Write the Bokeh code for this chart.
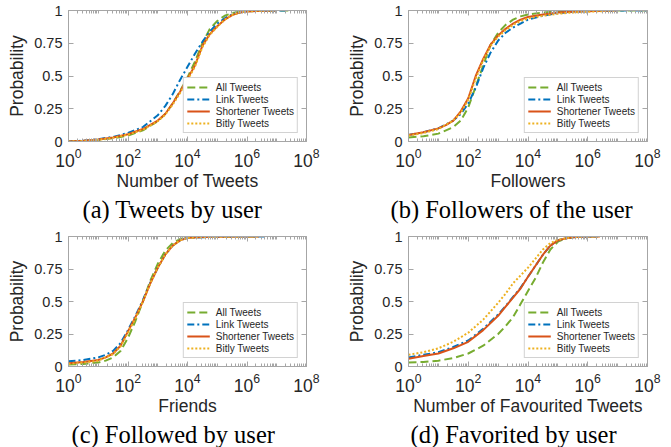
import numpy as np
from bokeh.plotting import figure
from bokeh.layouts import column, row
from bokeh.models import (FixedTicker, Legend, LegendItem, Title, LogAxis, LinearAxis,
                          ColumnDataSource)
from bokeh.embed import file_html
from bokeh.resources import INLINE

# ---------------- data (log10 of x, probability) ----------------
series_names = ["All Tweets", "Link Tweets", "Shortener Tweets", "Bitly Tweets"]

# (a) Tweets by user
a_all_e = [0, 0.5, 1, 1.5, 2, 2.5, 3, 3.25, 3.5, 3.75, 4, 4.25, 4.5, 4.75, 5, 5.25, 5.5, 5.75, 6, 7, 7.5]
a_all_p = [0.0, 0.003, 0.01, 0.025, 0.045, 0.085, 0.155, 0.21, 0.29, 0.385, 0.49, 0.61, 0.75, 0.86, 0.92, 0.96, 0.98, 0.99, 0.996, 1.0, 1.0]
a_link_e = [0, 0.5, 1, 1.5, 2, 2.5, 3, 3.25, 3.5, 3.75, 4, 4.25, 4.5, 4.75, 5, 5.25, 5.5, 5.75, 6, 6.5, 7, 7.3]
a_link_p = [0.0, 0.006, 0.018, 0.035, 0.065, 0.11, 0.2, 0.27, 0.36, 0.47, 0.57, 0.67, 0.76, 0.84, 0.9, 0.94, 0.97, 0.985, 0.993, 0.998, 1.0, 1.0]
a_short_e = [0, 0.5, 1, 1.5, 2, 2.5, 3, 3.25, 3.5, 3.75, 4, 4.25, 4.5, 4.75, 5, 5.25, 5.5, 5.75, 6, 6.5, 7]
a_short_p = [0.0, 0.005, 0.015, 0.03, 0.055, 0.095, 0.16, 0.21, 0.29, 0.38, 0.48, 0.58, 0.73, 0.82, 0.88, 0.93, 0.965, 0.985, 0.993, 0.998, 1.0]
a_bitly_e = [0, 0.5, 1, 1.5, 2, 2.5, 3, 3.25, 3.5, 3.75, 4, 4.25, 4.5, 4.75, 5, 5.25, 5.5, 5.75, 6, 6.5, 7]
a_bitly_p = [0.0, 0.004, 0.014, 0.028, 0.052, 0.09, 0.155, 0.205, 0.28, 0.37, 0.47, 0.57, 0.72, 0.815, 0.875, 0.93, 0.965, 0.985, 0.993, 0.998, 1.0]

# (b) Followers of the user
b_all_e = [0, 0.5, 1, 1.5, 1.75, 2, 2.25, 2.5, 2.75, 3, 3.25, 3.5, 3.75, 4, 4.5, 5, 6, 7, 8]
b_all_p = [0.03, 0.04, 0.06, 0.11, 0.16, 0.26, 0.42, 0.58, 0.74, 0.83, 0.89, 0.93, 0.955, 0.97, 0.985, 0.993, 0.998, 1.0, 1.0]
b_link_e = [0, 0.5, 1, 1.5, 1.75, 2, 2.25, 2.5, 2.75, 3, 3.25, 3.5, 3.75, 4, 4.5, 5, 5.5, 6, 7, 7.5, 8]
b_link_p = [0.05, 0.07, 0.1, 0.16, 0.21, 0.29, 0.41, 0.56, 0.68, 0.77, 0.83, 0.87, 0.9, 0.93, 0.96, 0.98, 0.99, 0.995, 0.999, 1.0, 1.0]
b_short_e = [0, 0.5, 1, 1.25, 1.5, 1.75, 2, 2.25, 2.5, 2.75, 3, 3.25, 3.5, 3.75, 4, 4.5, 5, 5.5, 6, 6.5, 7]
b_short_p = [0.05, 0.07, 0.1, 0.125, 0.16, 0.23, 0.33, 0.5, 0.63, 0.74, 0.81, 0.86, 0.9, 0.93, 0.95, 0.97, 0.985, 0.99, 0.995, 0.998, 1.0]
b_bitly_e = [0, 0.5, 1, 1.5, 1.75, 2, 2.25, 2.5, 2.75, 3, 3.25, 3.5, 3.75, 4, 4.5, 5, 5.5, 6, 6.5, 7]
b_bitly_p = [0.045, 0.065, 0.095, 0.16, 0.22, 0.32, 0.48, 0.62, 0.73, 0.8, 0.85, 0.89, 0.92, 0.94, 0.96, 0.975, 0.985, 0.99, 0.995, 1.0]

# (c) Followed by user (friends)
c_all_e = [0, 0.5, 1, 1.25, 1.5, 1.75, 2, 2.25, 2.5, 2.75, 3, 3.25, 3.5, 3.75, 4, 5, 6, 6.4]
c_all_p = [0.015, 0.02, 0.03, 0.045, 0.07, 0.12, 0.22, 0.35, 0.5, 0.66, 0.79, 0.89, 0.95, 0.98, 0.993, 0.999, 1.0, 1.0]
c_link_e = [0, 0.5, 1, 1.25, 1.5, 1.75, 2, 2.25, 2.5, 2.75, 3, 3.25, 3.5, 3.75, 4, 5, 6, 6.6]
c_link_p = [0.04, 0.05, 0.07, 0.09, 0.12, 0.18, 0.28, 0.39, 0.51, 0.645, 0.76, 0.86, 0.93, 0.97, 0.99, 0.998, 1.0, 1.0]
c_short_e = [0, 0.5, 1, 1.25, 1.5, 1.75, 2, 2.25, 2.5, 2.75, 3, 3.25, 3.5, 3.75, 4, 4.5, 5, 6, 6.4]
c_short_p = [0.025, 0.035, 0.05, 0.07, 0.1, 0.16, 0.27, 0.38, 0.5, 0.64, 0.76, 0.86, 0.93, 0.97, 0.99, 0.996, 0.998, 1.0, 1.0]
c_bitly_e = [0, 0.5, 1, 1.5, 1.75, 2, 2.25, 2.5, 2.75, 3, 3.25, 3.5, 3.75, 4, 5, 6, 6.4]
c_bitly_p = [0.02, 0.03, 0.045, 0.095, 0.155, 0.26, 0.37, 0.5, 0.64, 0.76, 0.86, 0.93, 0.97, 0.99, 0.998, 1.0, 1.0]

# (d) Favorited by user
d_all_e = [0, 0.5, 1, 1.5, 2, 2.5, 3, 3.25, 3.5, 3.75, 4, 4.25, 4.5, 4.75, 5, 5.25, 5.5, 6, 6.4]
d_all_p = [0.03, 0.035, 0.045, 0.065, 0.1, 0.16, 0.25, 0.31, 0.38, 0.48, 0.58, 0.68, 0.8, 0.9, 0.96, 0.985, 0.995, 1.0, 1.0]
d_link_e = [0, 0.5, 1, 1.5, 2, 2.5, 3, 3.25, 3.5, 3.75, 4, 4.25, 4.5, 4.75, 5, 5.25, 5.5, 6, 6.4]
d_link_p = [0.07, 0.09, 0.11, 0.15, 0.2, 0.29, 0.4, 0.465, 0.535, 0.605, 0.69, 0.775, 0.86, 0.93, 0.97, 0.985, 0.995, 1.0, 1.0]
d_short_e = [0, 0.5, 1, 1.5, 2, 2.5, 3, 3.25, 3.5, 3.75, 4, 4.25, 4.5, 4.75, 5, 5.25, 5.5, 6, 6.4]
d_short_p = [0.06, 0.08, 0.1, 0.14, 0.19, 0.28, 0.39, 0.46, 0.53, 0.6, 0.69, 0.775, 0.86, 0.93, 0.97, 0.985, 0.995, 1.0, 1.0]
d_bitly_e = [0, 0.5, 1, 1.5, 2, 2.5, 3, 3.25, 3.5, 3.75, 4, 4.25, 4.5, 4.75, 5, 5.5, 6, 6.4]
d_bitly_p = [0.09, 0.11, 0.14, 0.19, 0.26, 0.36, 0.49, 0.56, 0.64, 0.7, 0.76, 0.83, 0.9, 0.95, 0.975, 0.995, 1.0, 1.0]

x_labels = ["Number of Tweets", "Followers", "Friends", "Number of Favourited Tweets"]
captions = ["(a) Tweets by user", "(b) Followers of the user", "(c) Followed by user", "(d) Favorited by user"]
y_ticks = [0, 0.25, 0.5, 0.75, 1]
y_tick_labels = ["0", "0.25", "0.5", "0.75", "1"]
x_major_ticks = [1, 1e2, 1e4, 1e6, 1e8]

# ---------------- styling ----------------
COLORS = ["#77AC30", "#0072BD", "#D95319", "#EDB120"]
DASHES = ["8 4", "7 3 2 3", "solid", "2 2"]
AXIS_GRAY = "#a6a6a6"
TEXT = "#262626"
SANS = "Liberation Sans"
SERIF = "Liberation Serif"

minor = []
for k in range(0, 8):
    for m in range(2, 10):
        minor.append(m * 10.0 ** k)
    if k % 2 == 0:
        minor.append(10.0 ** (k + 1))


def style_axis(ax, size="14.5px"):
    ax.axis_line_color = AXIS_GRAY
    ax.major_tick_line_color = AXIS_GRAY
    ax.minor_tick_line_color = AXIS_GRAY
    ax.major_tick_in = 5
    ax.major_tick_out = 0
    ax.minor_tick_in = 3
    ax.minor_tick_out = 0
    ax.major_label_text_color = TEXT
    ax.major_label_text_font = SANS
    ax.major_label_text_font_size = size


def hidden_axis(ax, ticks):
    style_axis(ax, "1px")
    ax.major_label_standoff = 0
    ax.major_label_text_alpha = 0
    ax.major_label_overrides = {t: " " for t in ticks}


def make_panel(series, xlabel, caption, cap_offset, w, h, bl, br, bt, bb):
    p = figure(width=w, height=h, x_axis_type="log", x_range=(1, 1e8), y_range=(0, 1),
               output_backend="svg", toolbar_location=None,
               min_border_left=bl, min_border_right=br, min_border_top=bt, min_border_bottom=bb)
    p.grid.visible = False
    p.outline_line_color = AXIS_GRAY
    p.background_fill_color = "white"
    p.border_fill_color = "white"

    p.xaxis.ticker = FixedTicker(ticks=x_major_ticks, minor_ticks=minor)
    p.yaxis.ticker = FixedTicker(ticks=y_ticks, minor_ticks=[])
    style_axis(p.xaxis[0], "17.5px")
    style_axis(p.yaxis[0], "14.5px")
    p.xaxis.major_label_standoff = 6
    p.yaxis.major_label_standoff = 6
    p.yaxis.major_label_overrides = {t: l for t, l in zip(y_ticks, y_tick_labels)}
    p.yaxis.minor_tick_line_color = None
    p.xaxis.axis_label = xlabel
    p.yaxis.axis_label = "Probability"
    for ax in (p.xaxis[0], p.yaxis[0]):
        ax.axis_label_text_font = SANS
        ax.axis_label_text_font_size = "17.5px"
        ax.axis_label_text_font_style = "normal"
        ax.axis_label_text_color = TEXT
    p.xaxis.axis_label_standoff = 1
    p.yaxis.axis_label_standoff = 4

    top = LogAxis(ticker=FixedTicker(ticks=x_major_ticks, minor_ticks=minor))
    hidden_axis(top, x_major_ticks)
    p.add_layout(top, "above")
    right = LinearAxis(ticker=FixedTicker(ticks=y_ticks, minor_ticks=[]))
    hidden_axis(right, y_ticks)
    p.add_layout(right, "right")

    items = []
    for (e, pr), name, c, d in zip(series, series_names, COLORS, DASHES):
        src = ColumnDataSource(dict(x=10.0 ** np.array(e), y=pr))
        r = p.line("x", "y", source=src, line_color=c, line_width=2, line_dash=d)
        items.append(LegendItem(label=name, renderers=[r]))
    leg = Legend(items=items, location="bottom_right", border_line_color=AXIS_GRAY,
                 label_text_font=SANS, label_text_font_size="10px", label_text_color=TEXT,
                 glyph_width=23, glyph_height=12, label_height=12, label_standoff=6,
                 spacing=0, padding=3, margin=8, background_fill_alpha=1.0)
    p.add_layout(leg)

    t = Title(text=caption, align="left", text_font=SERIF, text_font_size="24.5px",
              text_font_style="normal", text_color="black", offset=cap_offset, standoff=0)
    p.add_layout(t, "below")
    return p


pa = make_panel([(a_all_e, a_all_p), (a_link_e, a_link_p), (a_short_e, a_short_p), (a_bitly_e, a_bitly_p)],
                x_labels[0], captions[0], 14, 335, 224, 68, 29, 10, 83)
pb = make_panel([(b_all_e, b_all_p), (b_link_e, b_link_p), (b_short_e, b_short_p), (b_bitly_e, b_bitly_p)],
                x_labels[1], captions[1], -18, 336, 224, 73, 24, 10, 83)
pc = make_panel([(c_all_e, c_all_p), (c_link_e, c_link_p), (c_short_e, c_short_p), (c_bitly_e, c_bitly_p)],
                x_labels[2], captions[2], 3, 335, 223, 68, 29, 12, 79)
pd = make_panel([(d_all_e, d_all_p), (d_link_e, d_link_p), (d_short_e, d_short_p), (d_bitly_e, d_bitly_p)],
                x_labels[3], captions[3], 2, 336, 223, 73, 24, 12, 79)

layout = column(row(pa, pb, spacing=0), row(pc, pd, spacing=0), spacing=0)
open("out.html", "w").write(file_html(layout, INLINE))
